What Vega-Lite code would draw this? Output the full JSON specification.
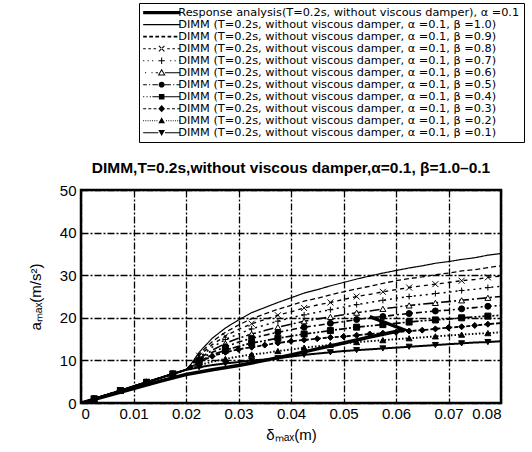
{
  "$schema": "https://vega.github.io/schema/vega-lite/v6.json",
  "width": 420,
  "height": 213,
  "autosize": {"type": "none"},
  "padding": {"left": 81, "top": 190, "right": 31, "bottom": 49},
  "background": "white",
  "config": {
    "view": {"stroke": "black", "strokeWidth": 2.5},
    "axis": {
      "labelFont": "Liberation Sans", "labelFontSize": 15, "labelColor": "black",
      "titleFont": "Liberation Sans", "titleFontSize": 15, "titleFontWeight": "normal", "titleColor": "black",
      "domain": false, "ticks": false,
      "gridColor": "black", "gridDash": [7, 2, 2, 2], "gridWidth": 1.3, "gridOpacity": 1
    }
  },
  "title": {
    "text": "DIMM,T=0.2s,without viscous damper,α=0.1, β=1.0–0.1",
    "frame": "group", "anchor": "middle", "offset": -174,
    "font": "Liberation Sans", "fontSize": 15.5, "fontWeight": "bold", "color": "black"
  },
  "datasets": {
    "resp": [
      {"i":0,"x":0,"y":0},{"i":1,"x":0.005,"y":1.7},{"i":2,"x":0.01,"y":3.4},{"i":3,"x":0.015,"y":5.1},{"i":4,"x":0.02,"y":6.7},{"i":5,"x":0.025,"y":7.8},{"i":6,"x":0.03,"y":8.8},{"i":7,"x":0.035,"y":10.0},{"i":8,"x":0.04,"y":11.3},{"i":9,"x":0.045,"y":12.7},{"i":10,"x":0.05,"y":14.1},{"i":11,"x":0.055,"y":15.5},{"i":12,"x":0.06,"y":16.8},{"i":13,"x":0.0615,"y":17.2},{"i":14,"x":0.055,"y":20.3}
    ],
    "leg": [{"s":0},{"s":1},{"s":2},{"s":3},{"s":4},{"s":5},{"s":6},{"s":7},{"s":8},{"s":9},{"s":10}],
    "dimm": [
      {"s":1,"x":0,"y":0},{"s":1,"x":0.0025,"y":0.98},{"s":1,"x":0.0075,"y":2.93},{"s":1,"x":0.0125,"y":4.88},{"s":1,"x":0.0175,"y":6.83},{"s":1,"x":0.02,"y":7.8},
      {"s":1,"x":0.021,"y":9.2},{"s":1,"x":0.0225,"y":11.9},{"s":1,"x":0.025,"y":15.2},{"s":1,"x":0.0275,"y":17.6},{"s":1,"x":0.03,"y":19.5},{"s":1,"x":0.0325,"y":21.2},{"s":1,"x":0.035,"y":22.4},{"s":1,"x":0.0375,"y":23.6},{"s":1,"x":0.04,"y":24.7},{"s":1,"x":0.0425,"y":25.8},{"s":1,"x":0.045,"y":26.6},{"s":1,"x":0.0475,"y":27.5},{"s":1,"x":0.05,"y":28.3},{"s":1,"x":0.0525,"y":29.1},{"s":1,"x":0.055,"y":29.8},{"s":1,"x":0.0575,"y":30.5},{"s":1,"x":0.06,"y":31.1},{"s":1,"x":0.0625,"y":31.7},{"s":1,"x":0.065,"y":32.2},{"s":1,"x":0.0675,"y":32.8},{"s":1,"x":0.07,"y":33.2},{"s":1,"x":0.0725,"y":33.7},{"s":1,"x":0.075,"y":34.1},{"s":1,"x":0.0775,"y":34.7},{"s":1,"x":0.08,"y":35.1},

      {"s":2,"x":0,"y":0},{"s":2,"x":0.0025,"y":0.98},{"s":2,"x":0.0075,"y":2.93},{"s":2,"x":0.0125,"y":4.88},{"s":2,"x":0.0175,"y":6.83},{"s":2,"x":0.02,"y":7.8},
      {"s":2,"x":0.021,"y":9.0},{"s":2,"x":0.0225,"y":11.5},{"s":2,"x":0.025,"y":14.4},{"s":2,"x":0.0275,"y":16.6},{"s":2,"x":0.03,"y":18.3},{"s":2,"x":0.0325,"y":19.8},{"s":2,"x":0.035,"y":20.9},{"s":2,"x":0.0375,"y":22.0},{"s":2,"x":0.04,"y":22.9},{"s":2,"x":0.0425,"y":23.9},{"s":2,"x":0.045,"y":24.6},{"s":2,"x":0.0475,"y":25.4},{"s":2,"x":0.05,"y":26.1},{"s":2,"x":0.0525,"y":26.8},{"s":2,"x":0.055,"y":27.4},{"s":2,"x":0.0575,"y":28.1},{"s":2,"x":0.06,"y":28.7},{"s":2,"x":0.0625,"y":29.2},{"s":2,"x":0.065,"y":29.6},{"s":2,"x":0.0675,"y":30.1},{"s":2,"x":0.07,"y":30.5},{"s":2,"x":0.0725,"y":31.0},{"s":2,"x":0.075,"y":31.3},{"s":2,"x":0.0775,"y":31.8},{"s":2,"x":0.08,"y":32.2},

      {"s":3,"x":0,"y":0},{"s":3,"x":0.0025,"y":0.98,"m":1},{"s":3,"x":0.0075,"y":2.93,"m":1},{"s":3,"x":0.0125,"y":4.88,"m":1},{"s":3,"x":0.0175,"y":6.83,"m":1},{"s":3,"x":0.02,"y":7.8},
      {"s":3,"x":0.021,"y":8.9},{"s":3,"x":0.0225,"y":11.1,"m":1},{"s":3,"x":0.025,"y":13.7},{"s":3,"x":0.0275,"y":15.7,"m":1},{"s":3,"x":0.03,"y":17.3},{"s":3,"x":0.0325,"y":18.6,"m":1},{"s":3,"x":0.035,"y":19.6},{"s":3,"x":0.0375,"y":20.6,"m":1},{"s":3,"x":0.04,"y":21.4},{"s":3,"x":0.0425,"y":22.3,"m":1},{"s":3,"x":0.045,"y":23.0},{"s":3,"x":0.0475,"y":23.6,"m":1},{"s":3,"x":0.05,"y":24.3},{"s":3,"x":0.0525,"y":25.0,"m":1},{"s":3,"x":0.055,"y":25.5},{"s":3,"x":0.0575,"y":26.1,"m":1},{"s":3,"x":0.06,"y":26.6},{"s":3,"x":0.0625,"y":27.1,"m":1},{"s":3,"x":0.065,"y":27.5},{"s":3,"x":0.0675,"y":27.9,"m":1},{"s":3,"x":0.07,"y":28.3},{"s":3,"x":0.0725,"y":28.7,"m":1},{"s":3,"x":0.075,"y":29.0},{"s":3,"x":0.0775,"y":29.5,"m":1},{"s":3,"x":0.08,"y":29.8},

      {"s":4,"x":0,"y":0},{"s":4,"x":0.0025,"y":0.98,"m":1},{"s":4,"x":0.0075,"y":2.93,"m":1},{"s":4,"x":0.0125,"y":4.88,"m":1},{"s":4,"x":0.0175,"y":6.83,"m":1},{"s":4,"x":0.02,"y":7.8},
      {"s":4,"x":0.021,"y":8.8},{"s":4,"x":0.0225,"y":10.7,"m":1},{"s":4,"x":0.025,"y":13.1},{"s":4,"x":0.0275,"y":14.9,"m":1},{"s":4,"x":0.03,"y":16.2},{"s":4,"x":0.0325,"y":17.4,"m":1},{"s":4,"x":0.035,"y":18.3},{"s":4,"x":0.0375,"y":19.2,"m":1},{"s":4,"x":0.04,"y":20.0},{"s":4,"x":0.0425,"y":20.7,"m":1},{"s":4,"x":0.045,"y":21.3},{"s":4,"x":0.0475,"y":21.9,"m":1},{"s":4,"x":0.05,"y":22.5},{"s":4,"x":0.0525,"y":23.1,"m":1},{"s":4,"x":0.055,"y":23.6},{"s":4,"x":0.0575,"y":24.1,"m":1},{"s":4,"x":0.06,"y":24.6},{"s":4,"x":0.0625,"y":25.0,"m":1},{"s":4,"x":0.065,"y":25.3},{"s":4,"x":0.0675,"y":25.7,"m":1},{"s":4,"x":0.07,"y":26.0},{"s":4,"x":0.0725,"y":26.4,"m":1},{"s":4,"x":0.075,"y":26.7},{"s":4,"x":0.0775,"y":27.1,"m":1},{"s":4,"x":0.08,"y":27.4},

      {"s":5,"x":0,"y":0},{"s":5,"x":0.0025,"y":0.98,"m":1},{"s":5,"x":0.0075,"y":2.93,"m":1},{"s":5,"x":0.0125,"y":4.88,"m":1},{"s":5,"x":0.0175,"y":6.83,"m":1},{"s":5,"x":0.02,"y":7.8},
      {"s":5,"x":0.021,"y":8.7},{"s":5,"x":0.0225,"y":10.4,"m":1},{"s":5,"x":0.025,"y":12.4},{"s":5,"x":0.0275,"y":14.0,"m":1},{"s":5,"x":0.03,"y":15.2},{"s":5,"x":0.0325,"y":16.2,"m":1},{"s":5,"x":0.035,"y":17.0},{"s":5,"x":0.0375,"y":17.8,"m":1},{"s":5,"x":0.04,"y":18.5},{"s":5,"x":0.0425,"y":19.2,"m":1},{"s":5,"x":0.045,"y":19.7},{"s":5,"x":0.0475,"y":20.2,"m":1},{"s":5,"x":0.05,"y":20.7},{"s":5,"x":0.0525,"y":21.2,"m":1},{"s":5,"x":0.055,"y":21.6},{"s":5,"x":0.0575,"y":22.1,"m":1},{"s":5,"x":0.06,"y":22.5},{"s":5,"x":0.0625,"y":22.9,"m":1},{"s":5,"x":0.065,"y":23.2},{"s":5,"x":0.0675,"y":23.5,"m":1},{"s":5,"x":0.07,"y":23.8},{"s":5,"x":0.0725,"y":24.1,"m":1},{"s":5,"x":0.075,"y":24.4},{"s":5,"x":0.0775,"y":24.7,"m":1},{"s":5,"x":0.08,"y":25.0},

      {"s":6,"x":0,"y":0},{"s":6,"x":0.0025,"y":0.98,"m":1},{"s":6,"x":0.0075,"y":2.93,"m":1},{"s":6,"x":0.0125,"y":4.88,"m":1},{"s":6,"x":0.0175,"y":6.83,"m":1},{"s":6,"x":0.02,"y":7.8},
      {"s":6,"x":0.021,"y":8.6},{"s":6,"x":0.0225,"y":10.1,"m":1},{"s":6,"x":0.025,"y":11.9},{"s":6,"x":0.0275,"y":13.2,"m":1},{"s":6,"x":0.03,"y":14.3},{"s":6,"x":0.0325,"y":15.2,"m":1},{"s":6,"x":0.035,"y":15.9},{"s":6,"x":0.0375,"y":16.6,"m":1},{"s":6,"x":0.04,"y":17.2},{"s":6,"x":0.0425,"y":17.8,"m":1},{"s":6,"x":0.045,"y":18.2},{"s":6,"x":0.0475,"y":18.7,"m":1},{"s":6,"x":0.05,"y":19.1},{"s":6,"x":0.0525,"y":19.6,"m":1},{"s":6,"x":0.055,"y":20.0},{"s":6,"x":0.0575,"y":20.3,"m":1},{"s":6,"x":0.06,"y":20.7},{"s":6,"x":0.0625,"y":21.0,"m":1},{"s":6,"x":0.065,"y":21.3},{"s":6,"x":0.0675,"y":21.6,"m":1},{"s":6,"x":0.07,"y":21.8},{"s":6,"x":0.0725,"y":22.1,"m":1},{"s":6,"x":0.075,"y":22.4},{"s":6,"x":0.0775,"y":22.7,"m":1},{"s":6,"x":0.08,"y":22.9},

      {"s":7,"x":0,"y":0},{"s":7,"x":0.0025,"y":0.98,"m":1},{"s":7,"x":0.0075,"y":2.93,"m":1},{"s":7,"x":0.0125,"y":4.88,"m":1},{"s":7,"x":0.0175,"y":6.83,"m":1},{"s":7,"x":0.02,"y":7.8},
      {"s":7,"x":0.021,"y":8.4},{"s":7,"x":0.0225,"y":9.7,"m":1},{"s":7,"x":0.025,"y":11.3},{"s":7,"x":0.0275,"y":12.4,"m":1},{"s":7,"x":0.03,"y":13.3},{"s":7,"x":0.0325,"y":14.1,"m":1},{"s":7,"x":0.035,"y":14.6},{"s":7,"x":0.0375,"y":15.2,"m":1},{"s":7,"x":0.04,"y":15.7},{"s":7,"x":0.0425,"y":16.2,"m":1},{"s":7,"x":0.045,"y":16.6},{"s":7,"x":0.0475,"y":17.0,"m":1},{"s":7,"x":0.05,"y":17.4},{"s":7,"x":0.0525,"y":17.8,"m":1},{"s":7,"x":0.055,"y":18.1},{"s":7,"x":0.0575,"y":18.4,"m":1},{"s":7,"x":0.06,"y":18.7},{"s":7,"x":0.0625,"y":19.0,"m":1},{"s":7,"x":0.065,"y":19.3},{"s":7,"x":0.0675,"y":19.5,"m":1},{"s":7,"x":0.07,"y":19.7},{"s":7,"x":0.0725,"y":20.0,"m":1},{"s":7,"x":0.075,"y":20.2},{"s":7,"x":0.0775,"y":20.4,"m":1},{"s":7,"x":0.08,"y":20.6},

      {"s":8,"x":0,"y":0},{"s":8,"x":0.0025,"y":0.98,"m":1},{"s":8,"x":0.0075,"y":2.93,"m":1},{"s":8,"x":0.0125,"y":4.88,"m":1},{"s":8,"x":0.0175,"y":6.83,"m":1},{"s":8,"x":0.02,"y":7.8},
      {"s":8,"x":0.021,"y":8.3},{"s":8,"x":0.0225,"y":9.6,"m":1},{"s":8,"x":0.025,"y":11.0,"m":1},{"s":8,"x":0.0275,"y":11.9,"m":1},{"s":8,"x":0.03,"y":12.6,"m":1},{"s":8,"x":0.0325,"y":13.1,"m":1},{"s":8,"x":0.035,"y":13.6,"m":1},{"s":8,"x":0.0375,"y":14.1,"m":1},{"s":8,"x":0.04,"y":14.5,"m":1},{"s":8,"x":0.0425,"y":14.8,"m":1},{"s":8,"x":0.045,"y":15.1,"m":1},{"s":8,"x":0.0475,"y":15.4,"m":1},{"s":8,"x":0.05,"y":15.6,"m":1},{"s":8,"x":0.0525,"y":15.9,"m":1},{"s":8,"x":0.055,"y":16.2,"m":1},{"s":8,"x":0.0575,"y":16.4,"m":1},{"s":8,"x":0.06,"y":16.6,"m":1},{"s":8,"x":0.0625,"y":16.9,"m":1},{"s":8,"x":0.065,"y":17.1,"m":1},{"s":8,"x":0.0675,"y":17.4,"m":1},{"s":8,"x":0.07,"y":17.7,"m":1},{"s":8,"x":0.0725,"y":17.9,"m":1},{"s":8,"x":0.075,"y":18.2,"m":1},{"s":8,"x":0.0775,"y":18.5,"m":1},{"s":8,"x":0.08,"y":18.75},

      {"s":9,"x":0,"y":0},{"s":9,"x":0.0025,"y":0.98,"m":1},{"s":9,"x":0.0075,"y":2.93,"m":1},{"s":9,"x":0.0125,"y":4.88,"m":1},{"s":9,"x":0.0175,"y":6.83,"m":1},{"s":9,"x":0.02,"y":7.8},
      {"s":9,"x":0.021,"y":8.15},{"s":9,"x":0.0225,"y":8.9,"m":1},{"s":9,"x":0.025,"y":9.7},{"s":9,"x":0.0275,"y":10.35,"m":1},{"s":9,"x":0.03,"y":10.9},{"s":9,"x":0.0325,"y":11.4,"m":1},{"s":9,"x":0.035,"y":11.7},{"s":9,"x":0.0375,"y":12.2,"m":1},{"s":9,"x":0.04,"y":12.55},{"s":9,"x":0.0425,"y":13.0,"m":1},{"s":9,"x":0.045,"y":13.3},{"s":9,"x":0.0475,"y":13.65,"m":1},{"s":9,"x":0.05,"y":13.95},{"s":9,"x":0.0525,"y":14.3,"m":1},{"s":9,"x":0.055,"y":14.5},{"s":9,"x":0.0575,"y":14.75,"m":1},{"s":9,"x":0.06,"y":15.0},{"s":9,"x":0.0625,"y":15.2,"m":1},{"s":9,"x":0.065,"y":15.4},{"s":9,"x":0.0675,"y":15.65,"m":1},{"s":9,"x":0.07,"y":15.85},{"s":9,"x":0.0725,"y":16.05,"m":1},{"s":9,"x":0.075,"y":16.25},{"s":9,"x":0.0775,"y":16.4,"m":1},{"s":9,"x":0.08,"y":16.6},

      {"s":10,"x":0,"y":0},{"s":10,"x":0.0025,"y":0.98,"m":1},{"s":10,"x":0.0075,"y":2.93,"m":1},{"s":10,"x":0.0125,"y":4.88,"m":1},{"s":10,"x":0.0175,"y":6.83,"m":1},{"s":10,"x":0.02,"y":7.8},
      {"s":10,"x":0.021,"y":8.0},{"s":10,"x":0.0225,"y":8.4,"m":1},{"s":10,"x":0.025,"y":8.9},{"s":10,"x":0.0275,"y":9.3,"m":1},{"s":10,"x":0.03,"y":9.6},{"s":10,"x":0.0325,"y":10.0,"m":1},{"s":10,"x":0.035,"y":10.2},{"s":10,"x":0.0375,"y":10.5,"m":1},{"s":10,"x":0.04,"y":10.9},{"s":10,"x":0.0425,"y":11.3,"m":1},{"s":10,"x":0.045,"y":11.6},{"s":10,"x":0.0475,"y":11.9,"m":1},{"s":10,"x":0.05,"y":12.2},{"s":10,"x":0.0525,"y":12.4,"m":1},{"s":10,"x":0.055,"y":12.6},{"s":10,"x":0.0575,"y":12.8,"m":1},{"s":10,"x":0.06,"y":13.0},{"s":10,"x":0.0625,"y":13.2,"m":1},{"s":10,"x":0.065,"y":13.4},{"s":10,"x":0.0675,"y":13.6,"m":1},{"s":10,"x":0.07,"y":13.8},{"s":10,"x":0.0725,"y":14.0,"m":1},{"s":10,"x":0.075,"y":14.2},{"s":10,"x":0.0775,"y":14.3,"m":1},{"s":10,"x":0.08,"y":14.5}
    ]
  },
  "layer": [
    {
      "data": {"name": "dimm"},
      "mark": {"type": "line", "color": "black", "clip": true},
      "encoding": {
        "x": {"field": "x", "type": "quantitative",
              "scale": {"domain": [0, 0.08], "nice": false, "zero": false},
              "axis": {"values": [0, 0.01, 0.02, 0.03, 0.04, 0.05, 0.06, 0.07, 0.08], "format": "~g", "title": "δₘₐₓ(m)", "labelPadding": 3, "titlePadding": 6, "grid": true}},
        "y": {"field": "y", "type": "quantitative",
              "scale": {"domain": [0, 50], "nice": false},
              "axis": {"values": [0, 10, 20, 30, 40, 50], "title": "aₘₐₓ(m/s²)", "labelPadding": 5, "titlePadding": 16, "grid": true}},
        "strokeDash": {"field": "s", "type": "nominal", "legend": null,
              "scale": {"domain": [1, 2, 3, 4, 5, 6, 7, 8, 9, 10],
                        "range": [[1, 0], [5, 3], [4, 4], [2, 4], [10, 3, 2, 3], [6, 3, 2, 3], [8, 2, 2, 2, 2, 2], [4, 2], [1.5, 2], [1, 0]]}},
        "strokeWidth": {"field": "s", "type": "ordinal", "legend": null,
              "scale": {"domain": [1, 2, 3, 4, 5, 6, 7, 8, 9, 10],
                        "range": [1.2, 2, 1.1, 1.1, 1.1, 1.1, 1.1, 1.1, 1.1, 1.1]}}
      }
    },
    {
      "data": {"name": "resp"},
      "mark": {"type": "line", "color": "black", "strokeWidth": 3.5, "clip": true},
      "encoding": {
        "x": {"field": "x", "type": "quantitative"},
        "y": {"field": "y", "type": "quantitative"},
        "order": {"field": "i", "type": "quantitative"}
      }
    },
    {
      "data": {"name": "dimm"},
      "transform": [{"filter": "datum.m == 1"}],
      "mark": {"type": "point", "filled": true, "size": 36, "stroke": "black", "strokeWidth": 1, "opacity": 1, "clip": true},
      "encoding": {
        "x": {"field": "x", "type": "quantitative"},
        "y": {"field": "y", "type": "quantitative"},
        "shape": {"field": "s", "type": "nominal", "legend": null,
              "scale": {"domain": [3, 4, 5, 6, 7, 8, 9, 10],
                        "range": ["M-1,-1L1,1M-1,1L1,-1", "M-1,0H1M0,-1V1", "triangle-up", "circle", "square", "diamond", "triangle-up", "triangle-down"]}},
        "fill": {"field": "s", "type": "nominal", "legend": null,
              "scale": {"domain": [3, 4, 5, 6, 7, 8, 9, 10],
                        "range": ["black", "black", "white", "black", "black", "black", "black", "black"]}}
      }
    },
    {
      "data": {"name": "leg"},
      "mark": {"type": "point", "filled": true, "color": "black", "opacity": 0, "size": 85.5},
      "encoding": {
        "shape": {"field": "s", "type": "nominal",
          "scale": {"domain": [0, 1, 2, 3, 4, 5, 6, 7, 8, 9, 10],
            "range": [
              "M-4,-0.35H4V0.35H-4Z",
              "M-4,-0.12H4V0.12H-4Z",
              "M-4,-0.2h0.8v0.4h-0.8ZM-2.68,-0.2h0.8v0.4h-0.8ZM-1.36,-0.2h0.8v0.4h-0.8ZM-0.04,-0.2h0.8v0.4h-0.8ZM1.28,-0.2h0.8v0.4h-0.8ZM2.6,-0.2h0.8v0.4h-0.8Z",
              "M-4,-0.11h0.56v0.22h-0.56ZM-2.88,-0.11h0.56v0.22h-0.56ZM-1.76,-0.11h0.56v0.22h-0.56ZM-0.68,-0.52L0.52,0.68L0.68,0.52L-0.52,-0.68ZM-0.68,0.52L0.52,-0.68L0.68,-0.52L-0.52,0.68ZM1.2,-0.11h0.56v0.22h-0.56ZM2.32,-0.11h0.56v0.22h-0.56ZM3.44,-0.11h0.56v0.22h-0.56Z",
              "M-4,-0.11h0.24v0.22h-0.24ZM-3.04,-0.11h0.24v0.22h-0.24ZM-2.08,-0.11h0.24v0.22h-0.24ZM-0.7,-0.11h1.4v0.22h-1.4ZM-0.11,-0.7h0.22v1.4h-0.22ZM1.84,-0.11h0.24v0.22h-0.24ZM2.8,-0.11h0.24v0.22h-0.24ZM3.76,-0.11h0.24v0.22h-0.24Z",
              "M-3.6,-0.11h0.24v0.22h-0.24ZM-2.2,-0.11h0.24v0.22h-0.24ZM-1.28,-0.11h0.48v0.22h-0.48ZM0,-0.85L0.85,0.6L-0.85,0.6ZM0,-0.42L-0.48,0.38L0.48,0.38ZM0.7,-0.11H4V0.11H0.7Z",
              "M-4,-0.11h0.8v0.22h-0.8ZM-2.72,-0.11h0.24v0.22h-0.24ZM-2,-0.11h1.2v0.22h-1.2ZM-0.64,0A0.64,0.64 0 1,0 0.64,0A0.64,0.64 0 1,0 -0.64,0ZM0.64,-0.11h1.36v0.22h-1.36ZM2.48,-0.11h0.24v0.22h-0.24ZM3.2,-0.11h0.8v0.22h-0.8Z",
              "M-4,-0.11h0.24v0.22h-0.24ZM-3.28,-0.11h0.24v0.22h-0.24ZM-2.56,-0.11h0.24v0.22h-0.24ZM-2,-0.11H-0.6V0.11H-2ZM-0.6,-0.6h1.2v1.2h-1.2ZM0.6,-0.11H4V0.11H0.6Z",
              "M-4,-0.11h0.64v0.22h-0.64ZM-2.88,-0.11h0.64v0.22h-0.64ZM-1.76,-0.11h0.64v0.22h-0.64ZM0,-0.8L0.72,0L0,0.8L-0.72,0ZM1.12,-0.11h0.64v0.22h-0.64ZM2.24,-0.11h0.64v0.22h-0.64ZM3.36,-0.11h0.64v0.22h-0.64Z",
              "M-4,-0.11h0.2v0.22h-0.2ZM-3.52,-0.11h0.2v0.22h-0.2ZM-3.04,-0.11h0.2v0.22h-0.2ZM-2.56,-0.11h0.2v0.22h-0.2ZM-2.08,-0.11h0.2v0.22h-0.2ZM-1.6,-0.11h0.2v0.22h-0.2ZM-1.12,-0.11h0.2v0.22h-0.2ZM0,-0.72L0.72,0.56L-0.72,0.56ZM0.96,-0.11h0.2v0.22h-0.2ZM1.44,-0.11h0.2v0.22h-0.2ZM1.92,-0.11h0.2v0.22h-0.2ZM2.4,-0.11h0.2v0.22h-0.2ZM2.88,-0.11h0.2v0.22h-0.2ZM3.36,-0.11h0.2v0.22h-0.2ZM3.8,-0.11h0.2v0.22h-0.2Z",
              "M-4,-0.11H-0.72V0.11H-4ZM-0.72,-0.56L0.72,-0.56L0,0.72ZM0.72,-0.11H4V0.11H0.72Z"
            ]},
          "legend": {
            "orient": "none", "legendX": 58, "legendY": -187, "title": null,
            "labelExpr": "['Response analysis(T=0.2s, without viscous damper), α =0.1', 'DIMM (T=0.2s, without viscous damper, α =0.1, β =1.0)', 'DIMM (T=0.2s, without viscous damper, α =0.1, β =0.9)', 'DIMM (T=0.2s, without viscous damper, α =0.1, β =0.8)', 'DIMM (T=0.2s, without viscous damper, α =0.1, β =0.7)', 'DIMM (T=0.2s, without viscous damper, α =0.1, β =0.6)', 'DIMM (T=0.2s, without viscous damper, α =0.1, β =0.5)', 'DIMM (T=0.2s, without viscous damper, α =0.1, β =0.4)', 'DIMM (T=0.2s, without viscous damper, α =0.1, β =0.3)', 'DIMM (T=0.2s, without viscous damper, α =0.1, β =0.2)', 'DIMM (T=0.2s, without viscous damper, α =0.1, β =0.1)'][datum.value]",
            "labelFont": "DejaVu Sans", "labelFontSize": 11.3, "labelColor": "black", "labelLimit": 600, "labelOffset": 11,
            "symbolSize": 85.5, "symbolOffset": 13, "symbolOpacity": 1, "symbolStrokeWidth": 0, "symbolFillColor": "black",
            "rowPadding": 0, "padding": 4, "strokeColor": "black", "fillColor": "white",
            "encode": {
              "legend": {"update": {"strokeWidth": {"value": 2}}},
              "symbols": {"update": {"fill": {"value": "black"}, "strokeWidth": {"value": 0}, "opacity": {"value": 1}}}
            }
          }
        }
      }
    }
  ],
  "resolve": {"scale": {"shape": "independent", "fill": "independent"}}
}
